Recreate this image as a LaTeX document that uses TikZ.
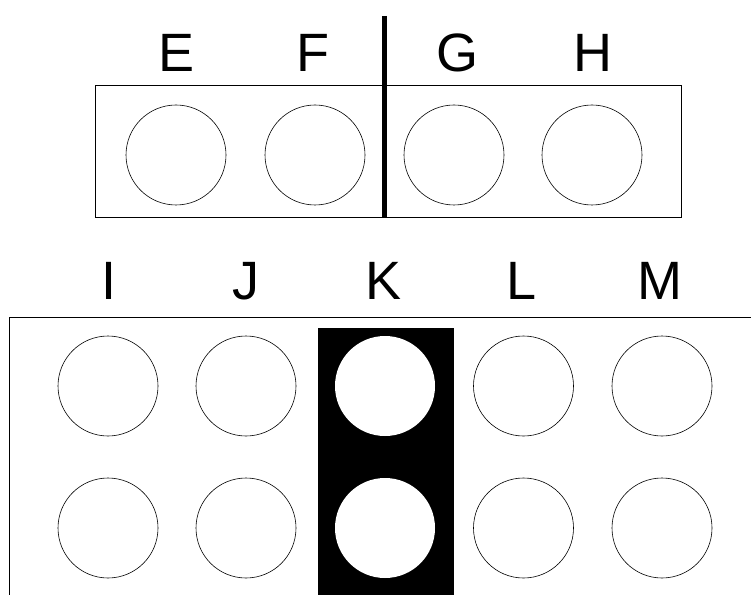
\documentclass[tikz,border=0pt]{standalone}
\usepackage{fontspec}
\setmainfont{Liberation Sans}

\tikzstyle{hole} = [circle, draw, line width=0.6pt, minimum size=100pt, inner sep=0pt]
\tikzstyle{blankhole} = [circle, fill=white, minimum size=100pt, inner sep=0pt]
\tikzstyle{pinlabel} = [anchor=base, inner sep=0pt, font=\fontsize{54}{60}\selectfont]
\tikzstyle{frame} = [draw, line width=0.8pt]

\begin{document}
\begin{tikzpicture}[x=1pt, y=1pt]
    \useasboundingbox (0,0) rectangle (751,595);

    % upper connector
    \path[frame] (95,510) rectangle (681,378);
    \draw[line width=4.5pt] (384.5,579) -- (384.5,378);

    \node[pinlabel](LabelE) at (177,523.5){E};
    \node[pinlabel](LabelF) at (313,523.5){F};
    \node[pinlabel](LabelG) at (457,523.5){G};
    \node[pinlabel](LabelH) at (593,523.5){H};

    \node[hole](HoleE) at (176,440){};
    \node[hole](HoleF) at (315,440){};
    \node[hole](HoleG) at (454,440){};
    \node[hole](HoleH) at (592,440){};

    % lower connector
    \path[frame] (751,278) -- (9,278) -- (9,0);
    \fill[black] (318,267) rectangle (454,0);

    \node[pinlabel](LabelI) at (109,296){I};
    \node[pinlabel](LabelJ) at (246,296){J};
    \node[pinlabel](LabelK) at (384,296){K};
    \node[pinlabel](LabelL) at (522,296){L};
    \node[pinlabel](LabelM) at (660,296){M};

    \node[hole](HoleIa) at (108,209){};
    \node[hole](HoleJa) at (246,209){};
    \node[blankhole](HoleKa) at (385,209){};
    \node[hole](HoleLa) at (523.5,209){};
    \node[hole](HoleMa) at (662,209){};

    \node[hole](HoleIb) at (108,67){};
    \node[hole](HoleJb) at (246,67){};
    \node[blankhole](HoleKb) at (385,67){};
    \node[hole](HoleLb) at (523.5,67){};
    \node[hole](HoleMb) at (662,67){};
\end{tikzpicture}
\end{document}
